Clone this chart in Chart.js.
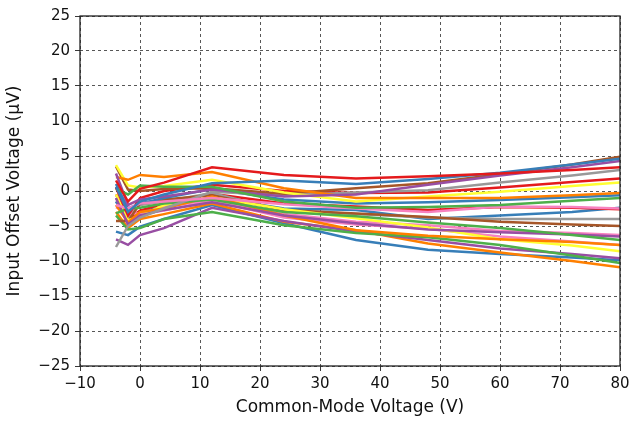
<!DOCTYPE html>
<html>
<head>
<meta charset="utf-8">
<script src="https://cdn.jsdelivr.net/npm/chart.js@4"></script>
<style>
  html, body { margin: 0; padding: 0; background: #fff; }
  #wrap { width: 629px; height: 422px; }
</style>
</head>
<body>
<div id="wrap"><canvas id="graphVos"></canvas></div>
<script>
// common-mode voltage sweep points (V)
var vcm = [-4, -2, 0, 4, 12, 24, 36, 48, 60, 72, 80]

// input offset voltage per unit (uV)
var redA    = [1.5, -1.5, 0.3, 1.2, 3.4, 2.3, 1.8, 2.1, 2.5, 3.0, 3.4]
var blueA   = [0.6, -3.0, -1.5, -0.5, 1.1, 1.5, 1.0, 1.7, 2.6, 3.8, 4.6]
var greenA  = [0.3, -0.5, 0.8, 0.6, 0.6, -1.5, -2.4, -2.3, -2.0, -1.4, -1.0]
var purpleA = [2.5, -2.0, -1.2, -0.8, 0.2, -0.8, -0.5, 0.9, 2.2, 3.4, 4.3]
var orangeA = [2.0, 1.6, 2.3, 2.0, 2.7, 0.4, -1.0, -1.0, -1.0, -0.6, -0.3]
var yellowA = [3.7, 0.8, 0.5, 0.7, 1.6, -0.2, -1.5, -0.8, -0.1, 0.7, 1.2]
var brownA  = [3.5, 0.2, 0.0, 0.3, 0.4, -0.4, 0.4, 1.1, 2.4, 3.8, 4.9]
var pinkA   = [-2.0, -2.5, -1.8, -1.5, -1.0, -1.9, -2.5, -3.0, -2.2, -2.3, -2.5]
var greyA   = [-8.0, -5.0, -3.8, -2.5, -0.1, -0.6, -0.2, 0.1, 1.2, 2.2, 3.0]

var redB    = [0.5, -3.5, -1.0, 0.0, 0.9, 0.0, -0.3, -0.2, 0.5, 1.3, 1.8]
var blueB   = [1.0, -2.5, -1.8, -1.0, 0.3, -1.2, -1.8, -1.6, -1.3, -0.9, -0.6]
var greenB  = [-3.2, -2.5, -2.4, -1.8, -1.2, -3.0, -3.6, -4.5, -5.3, -6.3, -7.0]
var purpleB = [-1.0, -4.8, -3.5, -2.7, -1.6, -3.5, -4.6, -5.5, -5.9, -6.2, -6.5]
var orangeB = [-2.0, -4.5, -3.0, -2.5, -0.8, -3.5, -5.6, -6.4, -6.9, -7.3, -7.7]
var yellowB = [-0.5, -4.2, -3.6, -2.0, -0.9, -2.6, -3.9, -5.2, -6.9, -7.8, -8.6]
var brownB  = [-4.3, -4.3, -1.8, -1.2, -0.6, -2.7, -3.2, -3.7, -4.4, -4.8, -5.0]
var pinkB   = [-2.3, -3.2, -3.2, -2.3, -1.2, -3.3, -4.4, -4.9, -5.7, -6.0, -6.3]
var greyB   = [-1.0, -3.8, -2.0, -1.5, -0.3, -2.8, -3.3, -3.8, -4.0, -4.0, -4.0]

var redC    = [-0.5, -4.0, -2.8, -1.8, -0.4, -1.8, -2.2, -2.7, -2.3, -2.4, -2.6]
var blueC   = [-1.5, -4.5, -3.0, -2.2, -0.9, -2.5, -2.7, -4.0, -3.5, -3.0, -2.4]
var greenC  = [-3.5, -5.5, -5.3, -4.0, -3.0, -4.9, -6.0, -6.6, -7.7, -9.2, -10.3]
var purpleC = [-6.9, -7.7, -6.3, -5.3, -2.4, -4.3, -5.8, -7.0, -8.2, -9.0, -9.6]
var orangeC = [-3.0, -5.3, -4.0, -3.3, -1.8, -4.4, -5.6, -7.5, -8.8, -10.0, -10.9]
var pinkC   = [-1.5, -3.8, -3.3, -2.8, -1.4, -3.8, -4.8, -5.4, -6.5, -7.2, -7.7]
var blueD   = [-5.8, -6.3, -5.1, -4.0, -2.0, -4.6, -7.0, -8.4, -9.0, -9.5, -9.9]

var yTicks = [-25, -20, -15, -10, -5, 0, 5, 10, 15, 20, 25]
var xTicks = [-10, 0, 10, 20, 30, 40, 50, 60, 70, 80]

var series = [
    [redA, '#e41a1c'], [blueA, '#377eb8'], [greenA, '#4daf4a'], [purpleA, '#984ea3'],
    [orangeA, '#ff7f00'], [yellowA, '#ffff33'], [brownA, '#a65628'], [pinkA, '#f781bf'],
    [greyA, '#999999'],
    [redB, '#e41a1c'], [blueB, '#377eb8'], [greenB, '#4daf4a'], [purpleB, '#984ea3'],
    [orangeB, '#ff7f00'], [yellowB, '#ffff33'], [brownB, '#a65628'], [pinkB, '#f781bf'],
    [greyB, '#999999'],
    [redC, '#e41a1c'], [blueC, '#377eb8'], [greenC, '#4daf4a'], [purpleC, '#984ea3'],
    [orangeC, '#ff7f00'], [pinkC, '#f781bf'], [blueD, '#377eb8']
]

var datasets = []
for (var i in series) {
    var pts = []
    for (var j in vcm) {
        pts.push({x: vcm[j], y: series[i][0][j]})
    }
    datasets.push({
        data: pts,
        borderColor: series[i][1],
        borderWidth: 2.5,
        fill: false,
        tension: 0,
        pointRadius: 0
    })
}

// unicode minus for negative tick labels
function fmt(v) {
    return v < 0 ? '\u2212' + Math.abs(v) : '' + v
}

// box around the plot area (top and right sides too)
var frame = {
    id: 'frame',
    afterDraw: function(chart) {
        var a = chart.chartArea, c = chart.ctx
        c.save()
        c.strokeStyle = '#222'
        c.lineWidth = 1.3
        c.strokeRect(a.left, a.top, a.right - a.left, a.bottom - a.top)
        c.restore()
    }
}

Chart.defaults.font.family = '"DejaVu Sans", sans-serif'
Chart.defaults.color = '#111'

var gridOpts = {
    color: '#444',
    lineWidth: 0.9,
    tickBorderDash: [],
    tickColor: '#222',
    tickLength: 5
}

new Chart(document.getElementById('graphVos').getContext('2d'), {
    type: 'line',
    data: { datasets: datasets },
    options: {
        responsive: true,
        maintainAspectRatio: false,
        animation: false,
        layout: { padding: { top: 16, right: 9, left: 0, bottom: 0 } },
        plugins: { legend: false, tooltip: { enabled: false } },
        scales: {
            x: {
                type: 'linear',
                min: -10, max: 80,
                afterBuildTicks: function(s) { s.ticks = xTicks.map(function(v) { return {value: v} }) },
                afterFit: function(s) { s.height = 56; s.paddingRight = 0; s.paddingLeft = 0 },
                grid: gridOpts,
                border: { display: false, dash: [3, 3] },
                ticks: { font: { size: 15 }, padding: 4, maxRotation: 0, callback: fmt },
                title: { display: true, text: 'Common-Mode Voltage (V)', font: { size: 17 }, padding: { top: 1 } }
            },
            y: {
                type: 'linear',
                min: -25, max: 25,
                afterBuildTicks: function(s) { s.ticks = yTicks.map(function(v) { return {value: v} }) },
                afterFit: function(s) { s.width = 80; s.paddingTop = 0; s.paddingBottom = 0 },
                grid: gridOpts,
                border: { display: false, dash: [3, 3] },
                ticks: { font: { size: 15 }, padding: 5, callback: fmt },
                title: { display: true, text: 'Input Offset Voltage (\u03bcV)', font: { size: 17 }, padding: { bottom: 0 } }
            }
        }
    },
    plugins: [frame]
})
</script>
</body>
</html>
